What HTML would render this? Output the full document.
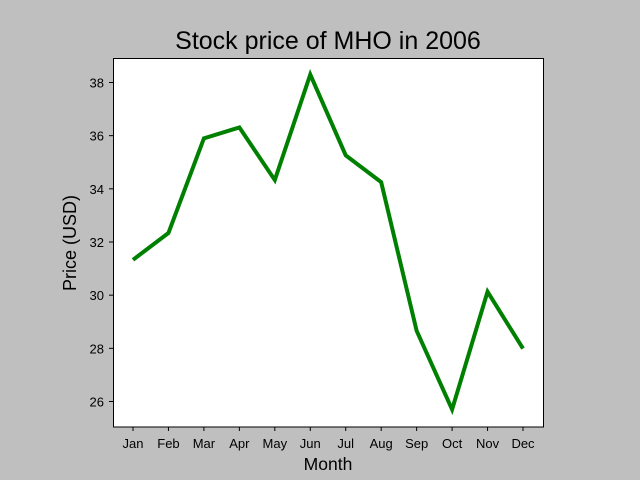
<!DOCTYPE html>
<html><head><meta charset="utf-8"><style>
body{margin:0;background:#bfbfbf;}
svg{display:block;font-family:"Liberation Sans",sans-serif;}
</style></head><body>
<svg width="640" height="480">
<rect x="0" y="0" width="640" height="480" fill="#bfbfbf"/>
<rect x="113.5" y="58.5" width="430" height="368.5" fill="#fff" stroke="#000" stroke-width="1"/>
<text x="328" y="49" font-size="25" text-anchor="middle">Stock price of MHO in 2006</text>
<text x="328" y="470" font-size="17.5" text-anchor="middle">Month</text>
<text transform="translate(76,243) rotate(-90)" font-size="18" text-anchor="middle">Price (USD)</text>
<g id="ticks"></g>
<polyline id="line" fill="none" stroke="#008000" stroke-width="4" stroke-linejoin="miter"/>
</svg>
<script>
const months=["Jan","Feb","Mar","Apr","May","Jun","Jul","Aug","Sep","Oct","Nov","Dec"];
const prices=[31.33,32.34,35.9,36.31,34.33,38.3,35.26,34.25,28.66,25.7,30.13,27.99];
const yTicks=[26,28,30,32,34,36,38];
const xs=i=>133+i*(523-133)/11;
const ys=v=>82.5+(38-v)*(401.5-82.5)/12;
const NS="http://www.w3.org/2000/svg";
const g=document.getElementById('ticks');
months.forEach((m,i)=>{
 const l=document.createElementNS(NS,'line');
 l.setAttribute('x1',xs(i));l.setAttribute('x2',xs(i));l.setAttribute('y1',427);l.setAttribute('y2',431);l.setAttribute('stroke','#000');
 
 
 g.appendChild(l);
 const t=document.createElementNS(NS,'text');
 t.setAttribute('x',xs(i));t.setAttribute('y',448);t.setAttribute('font-size','13');t.setAttribute('text-anchor','middle');t.textContent=m;
 
 
 g.appendChild(t);
});
yTicks.forEach(v=>{
 const l=document.createElementNS(NS,'line');
 l.setAttribute('x1',109);l.setAttribute('x2',113.5);l.setAttribute('y1',ys(v));l.setAttribute('y2',ys(v));l.setAttribute('stroke','#000');
 
 
 g.appendChild(l);
 const t=document.createElementNS(NS,'text');
 t.setAttribute('x',104);t.setAttribute('y',ys(v)+5);t.setAttribute('font-size','13');t.setAttribute('text-anchor','end');t.textContent=v;
 
 
 g.appendChild(t);
});
document.getElementById('line').setAttribute('points',prices.map((p,i)=>xs(i)+','+ys(p)).join(' '));
</script>
</body></html>
